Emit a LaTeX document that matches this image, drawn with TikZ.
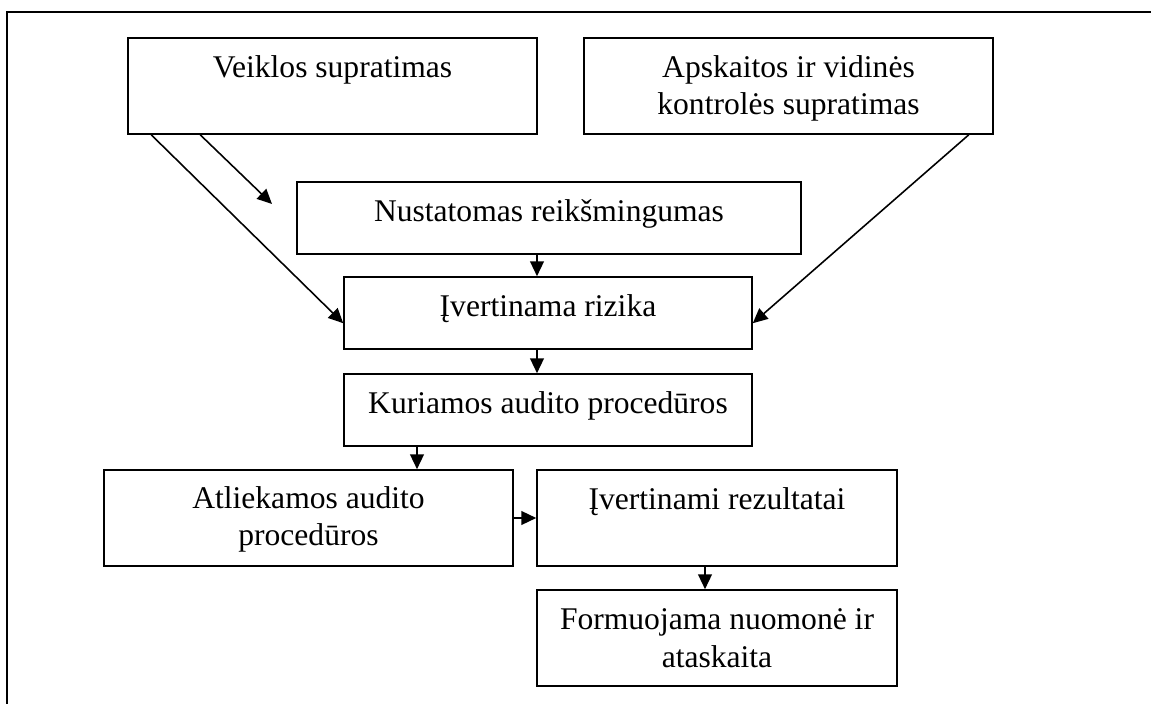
\documentclass[tikz,border=0pt]{standalone}
\usepackage{fontspec}
\setmainfont{Liberation Serif}
\usetikzlibrary{arrows.meta,positioning,calc,fit}

\begin{document}
\begin{tikzpicture}[x=0.38pt,y=-0.38pt,>={Triangle[length=5.6pt,width=5.2pt]},
  box/.style={draw,line width=0.6pt,inner sep=0pt},
  txt/.style={font=\fontsize{12}{14.4}\selectfont,align=center,inner sep=0pt},
  link/.style={->,line width=0.6pt}]
\useasboundingbox (0,0) rectangle (1151,704);
\draw[line width=0.6pt] (7,720) -- (7,12) -- (1170,12);
% boxes
\node[box,fit={(128,38) (537,134)}] (veikla) {};
\node[box,fit={(584,38) (993,134)}] (apsk) {};
\node[box,fit={(297,182) (801,254)}] (nust) {};
\node[box,fit={(344,277) (752,349)}] (rizika) {};
\node[box,fit={(344,374) (752,446)}] (kuria) {};
\node[box,fit={(104,470) (513,566)}] (atlik) {};
\node[box,fit={(537,470) (897,566)}] (rezul) {};
\node[box,fit={(537,590) (897,686)}] (formuo) {};
% texts (base = last line)
\node[txt,anchor=base] (veiklaT) at (332.5,78) {Veiklos supratimas};
\node[txt,anchor=base] (apskT) at (788.5,115) {Apskaitos ir vidinės\\kontrolės supratimas};
\node[txt,anchor=base] (nustT) at (549,222) {Nustatomas reikšmingumas};
\node[txt,anchor=base] (rizikaT) at (548,317) {Įvertinama rizika};
\node[txt,anchor=base] (kuriaT) at (548,414) {Kuriamos audito procedūros};
\node[txt,anchor=base] (atlikT) at (308.5,546) {Atliekamos audito\\procedūros};
\node[txt,anchor=base] (rezulT) at (717,510) {Įvertinami rezultatai};
\node[txt,anchor=base] (formuoT) at (717,667) {Formuojama nuomonė ir\\ataskaita};
% arrows
\coordinate (tipA) at (272,204);
\coordinate (axisA) at (537,0);
\coordinate (axisB) at (417,0);
\coordinate (axisC) at (705,0);
\draw[link] ($(veikla.south west)+(73,0)$) -- (tipA);
\draw[link] ($(veikla.south west)+(24,0)$) -- ($(rizika.north west)+(0,47)$);
\draw[link] ($(apsk.south east)+(-25,0)$) -- ($(rizika.north east)+(0,47)$);
\draw[link] (axisA |- nust.south) -- (axisA |- rizika.north);
\draw[link] (axisA |- rizika.south) -- (axisA |- kuria.north);
\draw[link] (axisB |- kuria.south) -- (axisB |- atlik.north);
\draw[link] (atlik.east) -- (rezul.west);
\draw[link] (axisC |- rezul.south) -- (axisC |- formuo.north);
\end{tikzpicture}
\end{document}
